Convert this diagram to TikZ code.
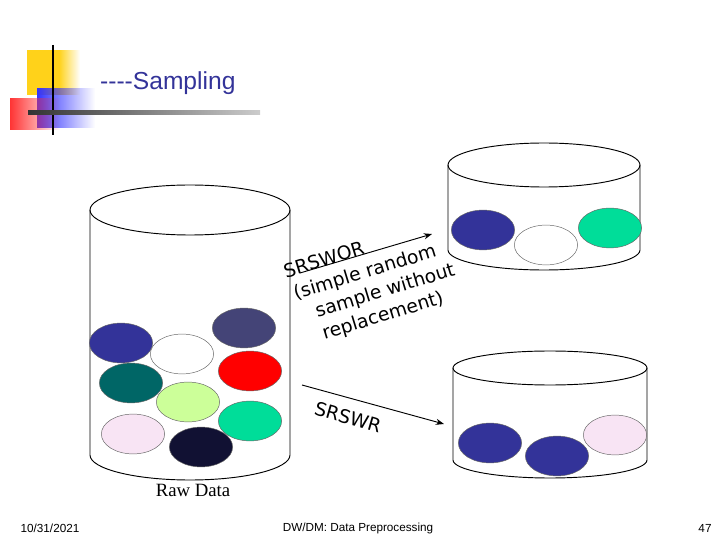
\documentclass[tikz,border=0pt]{standalone}
\usepackage{fontspec}
\setmainfont{Liberation Serif}
\newfontfamily\tahoma{Liberation Sans}
\newfontfamily\verd{DejaVu Sans}
\usetikzlibrary{positioning,arrows.meta,fadings,shapes.geometric}
\definecolor{navy}{HTML}{333399}
\definecolor{slate}{HTML}{444477}
\definecolor{teal}{HTML}{006666}
\definecolor{lime}{HTML}{CCFF99}
\definecolor{mint}{HTML}{00DD99}
\definecolor{pink}{HTML}{F8E4F4}
\definecolor{ink}{HTML}{111133}
\definecolor{gold}{HTML}{FFD21A}

\begin{document}
\begin{tikzpicture}[x=0.03cm,y=-0.03cm]

  \tikzstyle{ball}=[draw=black!60,thin,shape=ellipse,minimum width=54pt,minimum height=34pt,inner sep=0pt];
  \tikzstyle{link}=[->,thick,>={Stealth[length=7pt]}];
  \tikzstyle{foot}=[font=\tahoma\fontsize{10}{12}\selectfont];
  \tikzstyle{lbl}=[font=\verd\fontsize{16}{20}\selectfont,align=left];

  \useasboundingbox (0,0) rectangle (720,540);

  % logo
  \fill[gold] (27,50) rectangle (60,95);
  \fill[gold,path fading=east] (59,50) rectangle (80,95);
  \fill[blue!80,path fading=east] (37,88) rectangle (95,128);
  \fill[red!80,path fading=east] (10,98) rectangle (60,130);
  \draw[line width=1.5pt] (53,45) -- (53,135);
  \shade[left color=black!80,right color=black!20] (28,111) rectangle (260,115);
  \node[font=\tahoma\fontsize{21}{24}\selectfont,text=navy,anchor=west] (Title) at (96,83) {----Sampling};

  % cylinders
  \draw[thick] (90,210) -- (90,455) arc[start angle=180,end angle=0,x radius=100,y radius=25] -- (290,210);
  \draw[thick] (190,210) ellipse[x radius=100,y radius=25];
  \draw[thick] (448,165) -- (448,250) arc[start angle=180,end angle=0,x radius=96,y radius=20] -- (640,165);
  \draw[thick] (544,165) ellipse[x radius=96,y radius=22];
  \draw[thick] (453,368) -- (453,460) arc[start angle=180,end angle=0,x radius=97,y radius=18] -- (647,368);
  \draw[thick] (550,368) ellipse[x radius=97,y radius=17];

  % raw data
  \node[ball,fill=navy] (B1) at (121,343) {};
  \node[ball,fill=white] (B2) at (182,354) {};
  \node[ball,fill=slate] (B3) at (244,328) {};
  \node[ball,fill=teal] (B4) at (131,383) {};
  \node[ball,fill=red] (B5) at (250,371) {};
  \node[ball,fill=lime] (B6) at (188,402) {};
  \node[ball,fill=mint] (B7) at (250,421) {};
  \node[ball,fill=pink] (B8) at (133,434) {};
  \node[ball,fill=ink] (B9) at (201,447) {};

  % samples
  \node[ball,fill=navy] (S1) at (483,230) {};
  \node[ball,fill=white] (S2) at (546,245) {};
  \node[ball,fill=mint] (S3) at (610,228) {};
  \node[ball,fill=navy] (R1) at (490,443) {};
  \node[ball,fill=navy] (R2) at (557,456) {};
  \node[ball,fill=pink] (R3) at (615,435) {};

  \coordinate (WorA) at (300,273);
  \coordinate (WorB) at (432,234);
  \coordinate (WrA) at (302,385);
  \coordinate (WrB) at (444,424);
  \draw[link] (WorA) -- (WorB);
  \draw[link] (WrA) -- (WrB);

  \node[lbl,rotate=17] (Wor) at (373,283)
    {SRSWOR\\\,(simple random\\\quad sample without\\\quad replacement)};
  \node[lbl,rotate=-16] (Wr) at (348,417) {SRSWR};

  \node[font=\fontsize{16}{19}\selectfont] (Raw) at (193,490) {Raw Data};

  \node[foot] (Date) at (50,528) {10/31/2021};
  \node[foot] (Course) at (358,528) {DW/DM: Data Preprocessing};
  \node[foot] (Page) at (705,528) {47};

\end{tikzpicture}
\end{document}
